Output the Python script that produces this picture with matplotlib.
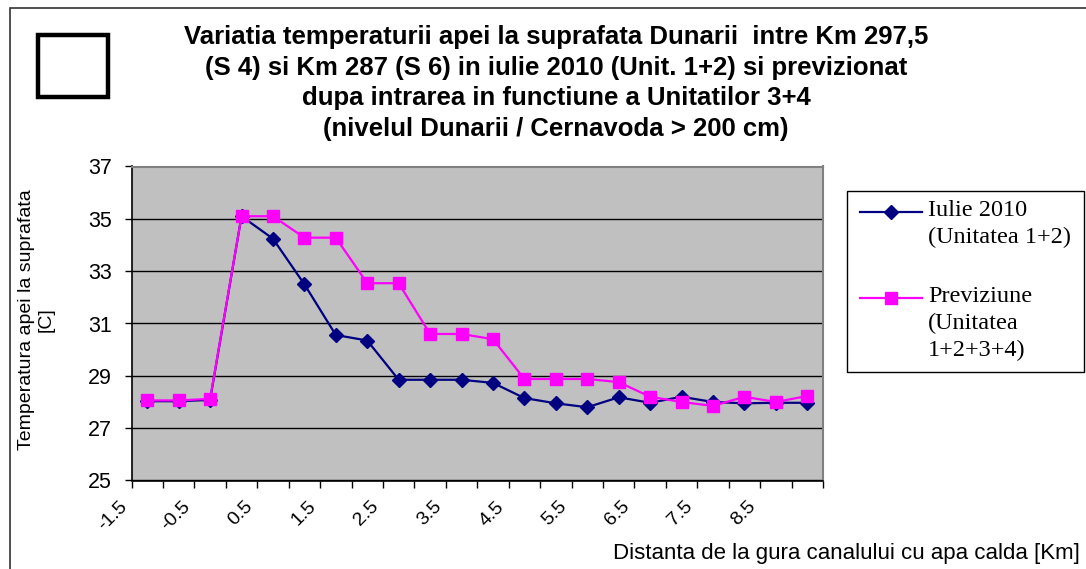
import matplotlib
matplotlib.use("Agg")
import matplotlib.pyplot as plt
from matplotlib.lines import Line2D
from matplotlib.patches import Rectangle
import numpy as np

# ---- data ----
distances = [-1.5, -1.0, -0.5, 0.0, 0.5, 1.0, 1.5, 2.0, 2.5, 3.0, 3.5,
             4.0, 4.5, 5.0, 5.5, 6.0, 6.5, 7.0, 7.5, 8.0, 8.5, 9.0]
iulie_2010 = [28.03, 28.03, 28.08, 35.1, 34.24, 32.5, 30.56, 30.35, 28.85, 28.85, 28.85,
              28.73, 28.15, 27.95, 27.8, 28.18, 27.97, 28.2, 28.0, 27.95, 27.97, 27.97]
previziune = [28.06, 28.06, 28.12, 35.1, 35.1, 34.28, 34.28, 32.54, 32.54, 30.6, 30.6,
              30.4, 28.88, 28.88, 28.88, 28.76, 28.2, 28.0, 27.85, 28.2, 28.0, 28.23]
y_ticks = [25, 27, 29, 31, 33, 35, 37]

title_lines = ["Variatia temperaturii apei la suprafata Dunarii  intre Km 297,5",
               "(S 4) si Km 287 (S 6) in iulie 2010 (Unit. 1+2) si previzionat",
               "dupa intrarea in functiune a Unitatilor 3+4",
               "(nivelul Dunarii / Cernavoda > 200 cm)"]
label_1 = ["Iulie 2010", "(Unitatea 1+2)"]
label_2 = ["Previziune", "(Unitatea", "1+2+3+4)"]
y_label = ["Temperatura apei la suprafata", "[C]"]
x_label = "Distanta de la gura canalului cu apa calda [Km]"

W, H = 1086, 569
fig = plt.figure(figsize=(W / 100, H / 100), dpi=100)
fig.patch.set_facecolor("white")

def fx(px):
    return px / W

def fy(py):
    return 1 - py / H

ax = fig.add_axes([fx(131.5), fy(480.5), fx(823) - fx(131.5), fy(166.5) - fy(480.5)])
ax.set_facecolor("#C0C0C0")

n = len(distances)
xs = np.arange(n)
ax.plot(xs, iulie_2010, color="#000080", lw=1.6, marker="D", ms=6.8,
        mfc="#000080", mec="#000080", zorder=3)
ax.plot(xs, previziune, color="#FF00FF", lw=1.6, marker="s", ms=9.2,
        mfc="#FF00FF", mec="#FF00FF", zorder=4)

ax.set_xlim(-0.5, n - 0.5)
ax.set_ylim(25, 37)
ax.set_yticks(y_ticks)
ax.set_yticklabels([str(v) for v in y_ticks], fontsize=15.5, family="Liberation Sans")
ax.yaxis.grid(True, color="black", lw=1)
ax.set_axisbelow(True)

# tick marks at category boundaries, labels every other category
ax.set_xticks(np.arange(n + 1) - 0.5)
ax.set_xticklabels([""] * (n + 1))
lab_pos = [i - 0.5 for i in range(0, n, 2)]
lab_txt = [("%g" % distances[i]) for i in range(0, n, 2)]
for p, t in zip(lab_pos, lab_txt):
    ax.text(p - 0.22, -0.075, t, transform=ax.get_xaxis_transform(), rotation=45,
            rotation_mode="anchor", ha="right", va="center", fontsize=14,
            family="Liberation Sans")

ax.tick_params(axis="both", direction="out", length=5, width=1, color="black")
ax.tick_params(axis="y", pad=9)
for s in ["top", "right"]:
    ax.spines[s].set_color("#808080")
    ax.spines[s].set_linewidth(1.5)
for s in ["left", "bottom"]:
    ax.spines[s].set_color("black")
    ax.spines[s].set_linewidth(1.2)

# axis labels
fig.text(fx(27), fy(320), y_label[0], rotation=90, ha="center", va="center",
         fontsize=14, family="Liberation Sans")
fig.text(fx(46), fy(320), y_label[1], rotation=90, ha="center", va="center",
         fontsize=14, family="Liberation Sans")
fig.text(fx(1080), fy(553), x_label, ha="right", va="center", fontsize=16,
         family="Liberation Sans")

# title
for i, line in enumerate(title_lines):
    fig.text(fx(556), fy(37 + i * 30.7), line, ha="center", va="center",
             fontsize=18.5, fontweight="bold", family="Liberation Sans")

# empty square
fig.patches.append(Rectangle((fx(38), fy(97)), fx(108) - fx(38), fy(35) - fy(97),
                             transform=fig.transFigure, fill=False, ec="black",
                             lw=3.2))
# outer border
fig.patches.append(Rectangle((fx(9.5), fy(575)), fx(1100) - fx(9.5), fy(7.5) - fy(575),
                             transform=fig.transFigure, fill=False, ec="#333333",
                             lw=1.2))

# legend
fig.patches.append(Rectangle((fx(847), fy(372)), fx(1084) - fx(847), fy(191) - fy(372),
                             transform=fig.transFigure, fill=False, ec="black",
                             lw=1.0))
fig.lines.append(Line2D([fx(860), fx(922)], [fy(212), fy(212)], transform=fig.transFigure,
                        color="#000080", lw=1.6))
fig.lines.append(Line2D([fx(891)], [fy(212)], transform=fig.transFigure,
                        color="#000080", marker="D", ms=6.8, ls="none"))
fig.lines.append(Line2D([fx(860), fx(922)], [fy(298), fy(298)], transform=fig.transFigure,
                        color="#FF00FF", lw=1.6))
fig.lines.append(Line2D([fx(891)], [fy(298)], transform=fig.transFigure,
                        color="#FF00FF", marker="s", ms=9.2, ls="none"))
for i, t in enumerate(label_1):
    fig.text(fx(928), fy(211 + i * 26.5), t, ha="left", va="center", fontsize=17.5,
             family="Liberation Serif")
for i, t in enumerate(label_2):
    fig.text(fx(928), fy(297 + i * 26.5), t, ha="left", va="center", fontsize=17.5,
             family="Liberation Serif")

fig.savefig("out.png", dpi=100)
